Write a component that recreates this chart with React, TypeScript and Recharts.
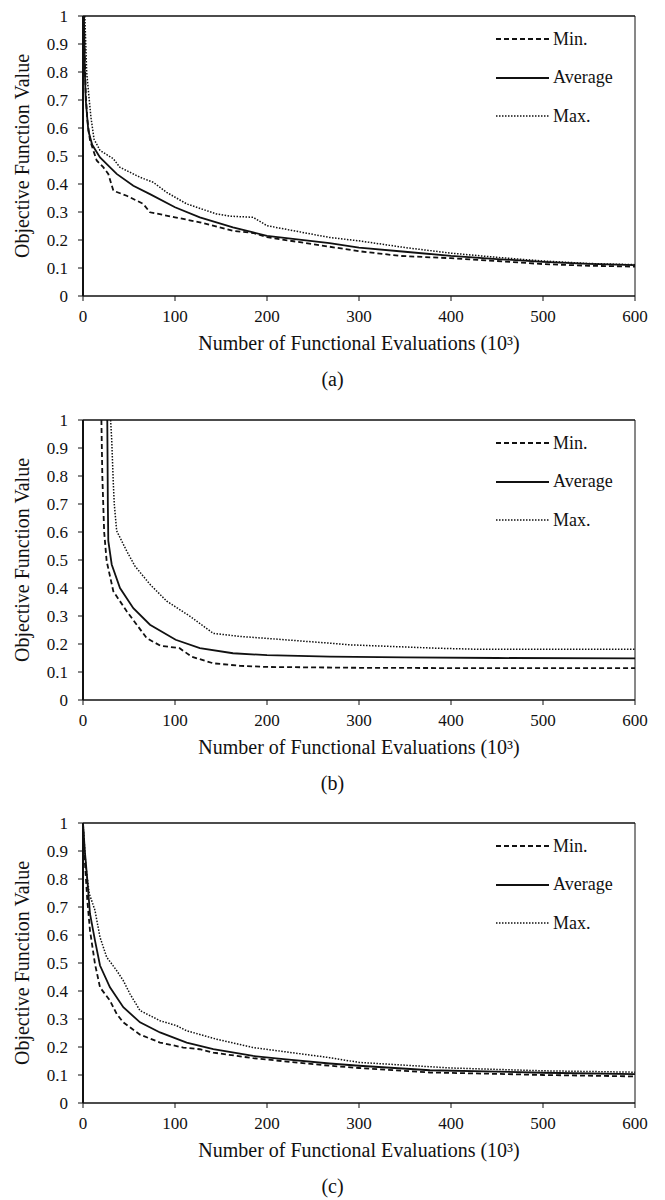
import { LineChart, Line, XAxis, YAxis, Legend, ReferenceLine } from "recharts";

// [x (10^3 evaluations), objective value]
const aMin = [[1, 1], [2, 0.85], [3, 0.72], [4.7, 0.63], [7.6, 0.556], [14.9, 0.484], [22, 0.46], [27.5, 0.436], [33, 0.376], [47.5, 0.358], [65.5, 0.329], [72.8, 0.299], [100, 0.281], [127, 0.263], [163, 0.233], [185, 0.225], [200, 0.21], [268, 0.176], [300, 0.16], [345, 0.143], [400, 0.135], [450, 0.125], [500, 0.114], [550, 0.108], [600, 0.105]];
const aAvg = [[1, 1], [2, 0.8], [3, 0.7], [5.8, 0.59], [10, 0.54], [18.5, 0.495], [36.6, 0.436], [54.7, 0.394], [72.8, 0.364], [100, 0.317], [127, 0.281], [163, 0.245], [185, 0.227], [200, 0.215], [268, 0.189], [300, 0.173], [350, 0.158], [400, 0.143], [450, 0.132], [500, 0.122], [550, 0.115], [600, 0.11]];
const aMax = [[2, 1], [4, 0.8], [5.8, 0.735], [8.6, 0.639], [12, 0.56], [18.5, 0.52], [33, 0.49], [40, 0.46], [62, 0.424], [76.4, 0.406], [91, 0.37], [112.7, 0.329], [145, 0.293], [160, 0.285], [185, 0.281], [200, 0.251], [268, 0.209], [300, 0.197], [350, 0.173], [400, 0.153], [450, 0.138], [500, 0.125], [550, 0.116], [600, 0.112]];

const bMin = [[20, 1], [21, 0.8], [23, 0.6], [25.7, 0.496], [33, 0.388], [47.5, 0.317], [58.4, 0.269], [69.2, 0.221], [84, 0.194], [105, 0.185], [118, 0.155], [141.6, 0.131], [170.6, 0.122], [200, 0.118], [300, 0.115], [400, 0.114], [500, 0.114], [600, 0.114]];
const bAvg = [[26.4, 1], [27, 0.7], [27.5, 0.568], [31.2, 0.484], [40.2, 0.4], [54.7, 0.328], [72.8, 0.269], [100.7, 0.215], [127, 0.185], [163, 0.167], [200, 0.16], [268, 0.155], [350, 0.152], [450, 0.15], [600, 0.149]];
const bMax = [[30, 1], [31.2, 0.93], [33, 0.77], [34, 0.7], [36.6, 0.604], [47.5, 0.532], [56.5, 0.478], [72.8, 0.413], [91, 0.353], [116.3, 0.299], [141.6, 0.238], [170.6, 0.227], [200, 0.22], [268, 0.203], [290, 0.197], [384, 0.185], [431.5, 0.181], [600, 0.181]];

const cMin = [[0, 1], [1, 0.915], [4.7, 0.724], [7.6, 0.616], [13, 0.497], [18.5, 0.413], [29.3, 0.366], [36.6, 0.318], [43.8, 0.288], [62, 0.244], [83.7, 0.216], [109, 0.198], [127, 0.192], [141.6, 0.18], [185, 0.16], [268, 0.133], [300, 0.125], [377, 0.109], [450, 0.104], [500, 0.1], [600, 0.095]];
const cAvg = [[0, 1], [2, 0.9], [4.7, 0.796], [7.6, 0.676], [13, 0.581], [18.5, 0.491], [29.3, 0.413], [43.8, 0.342], [62, 0.288], [83.7, 0.252], [112.7, 0.216], [141.6, 0.192], [185, 0.168], [218, 0.157], [268, 0.141], [300, 0.133], [377, 0.117], [450, 0.112], [500, 0.108], [600, 0.103]];
const cMax = [[0, 1], [3, 0.85], [6.8, 0.748], [13, 0.688], [18.5, 0.592], [25.7, 0.521], [36.6, 0.473], [43.8, 0.437], [51, 0.39], [62, 0.33], [83.7, 0.294], [101.8, 0.276], [112.7, 0.258], [145, 0.228], [185, 0.198], [268, 0.162], [300, 0.145], [400, 0.125], [500, 0.115], [600, 0.11]];

const xTicks = [0, 100, 200, 300, 400, 500, 600];
const yTicks = [0, 0.1, 0.2, 0.3, 0.4, 0.5, 0.6, 0.7, 0.8, 0.9, 1];
const seriesNames = ["Min.", "Average", "Max."];

const serif = '"Liberation Serif", "Times New Roman", serif';
const ink = "#111";

const seriesStyle: Record<string, { dash?: string; width: number }> = {
  "Min.": { dash: "5 3", width: 1.8 },
  Average: { width: 1.8 },
  "Max.": { dash: "1.5 1.5", width: 1.5 },
};

const toPoints = (arr: number[][]) => arr.map(([x, y]) => ({ x, y }));

// fixed order like the original figure (recharts sorts the payload by name)
function LegendBox() {
  return (
    <div style={{ fontFamily: serif, fontSize: 18, color: ink }}>
      {seriesNames.map((name) => {
        const s = seriesStyle[name];
        return (
          <div key={name} style={{ display: "flex", alignItems: "center", height: 38.5 }}>
            <svg width={57} height={10}>
              <line x1={0} y1={5} x2={53} y2={5} stroke={ink} strokeWidth={s.width} strokeDasharray={s.dash} />
            </svg>
            <span>{name}</span>
          </div>
        );
      })}
    </div>
  );
}

function Panel({ top, caption, min, avg, max }: { top: number; caption: string; min: number[][]; avg: number[][]; max: number[][] }) {
  return (
    <div style={{ position: "absolute", left: 0, top, width: 665, height: 400 }}>
      <LineChart width={665} height={366} margin={{ top: 16, right: 30, bottom: 0, left: 0 }}>
        <XAxis
          dataKey="x"
          type="number"
          domain={[0, 600]}
          ticks={xTicks}
          allowDataOverflow
          height={70}
          tickSize={5}
          tickMargin={9}
          axisLine={{ stroke: ink, strokeWidth: 1.5 }}
          tickLine={{ stroke: ink }}
          tick={{ fill: ink, fontSize: 17, fontFamily: serif }}
          label={{ value: "Number of Functional Evaluations (10³)", position: "insideBottom", offset: 16, fill: ink, fontSize: 20, fontFamily: serif }}
        />
        <YAxis
          dataKey="y"
          type="number"
          domain={[0, 1]}
          ticks={yTicks}
          allowDataOverflow
          width={83}
          tickSize={5}
          tickMargin={10}
          axisLine={{ stroke: ink, strokeWidth: 2 }}
          tickLine={{ stroke: ink }}
          tick={{ fill: ink, fontSize: 17, fontFamily: serif }}
          label={{ value: "Objective Function Value", angle: -90, position: "insideLeft", offset: 22, fill: ink, fontSize: 20, fontFamily: serif, style: { textAnchor: "middle" } }}
        />
        <ReferenceLine y={1} stroke={ink} strokeWidth={1.5} />
        <ReferenceLine x={600} stroke={ink} strokeWidth={1} />
        <Legend
          layout="vertical"
          align="center"
          verticalAlign="middle"
          content={<LegendBox />}
          wrapperStyle={{ left: 496, top: 20, width: 140, height: 120 }}
        />
        <Line data={toPoints(min)} dataKey="y" name="Min." type="linear" stroke={ink} strokeWidth={1.8} strokeDasharray="5 3" dot={false} isAnimationActive={false} />
        <Line data={toPoints(avg)} dataKey="y" name="Average" type="linear" stroke={ink} strokeWidth={1.8} dot={false} isAnimationActive={false} />
        <Line data={toPoints(max)} dataKey="y" name="Max." type="linear" stroke={ink} strokeWidth={1.5} strokeDasharray="1.5 1.5" dot={false} isAnimationActive={false} />
      </LineChart>
      <div style={{ position: "absolute", left: 0, width: 665, top: 367, textAlign: "center", fontFamily: serif, fontSize: 20, lineHeight: "24px", color: ink }}>
        {caption}
      </div>
    </div>
  );
}

export default function App() {
  return (
    <div style={{ position: "absolute", left: 0, top: 0, width: 665, height: 1200, background: "#fff" }}>
      <Panel top={0} caption="(a)" min={aMin} avg={aAvg} max={aMax} />
      <Panel top={404} caption="(b)" min={bMin} avg={bAvg} max={bMax} />
      <Panel top={807} caption="(c)" min={cMin} avg={cAvg} max={cMax} />
    </div>
  );
}
